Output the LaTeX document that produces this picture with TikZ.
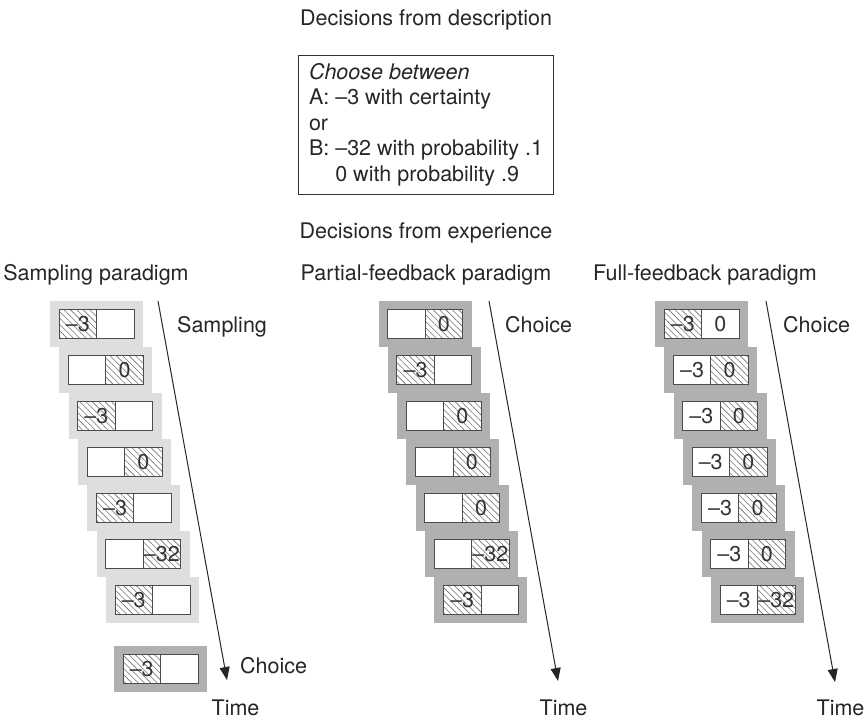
\documentclass[tikz,border=0pt]{standalone}
\usepackage{fontspec}
\setmainfont{TeX Gyre Heros}
\usetikzlibrary{positioning, patterns.meta, arrows.meta}

\definecolor{framelight}{gray}{0.87}
\definecolor{framedark}{gray}{0.69}
\definecolor{boxline}{gray}{0.3}
\definecolor{hatchline}{gray}{0.45}

\tikzset{
  lbl/.style={inner sep=0pt, anchor=base, text=black!85},
  lightframe/.style={fill=framelight, minimum width=93pt, minimum height=46pt, inner sep=0pt, outer sep=0pt},
  darkframe/.style={lightframe, fill=framedark},
  blank/.style={draw=boxline, line width=0.9pt, fill=white, minimum width=37.5pt, minimum height=29pt, inner sep=0pt, outer sep=0pt, text=black!80},
  hatch/.style={blank, preaction={fill=white}, pattern={Lines[angle=-45, distance=4.5pt, line width=0.6pt]}, pattern color=hatchline},
  timeline/.style={-{Triangle[length=13pt,width=10pt]}, line width=1pt, black!85},
}

\begin{document}
\begin{tikzpicture}[x=1pt, y=-1pt, font=\fontsize{21.5}{25.5}\selectfont]

\useasboundingbox (0,0) rectangle (867,723);

% description
\node[lbl] (desctitle) at (426,25) {Decisions from description};
\node[draw=black!80, line width=0.9pt, below=25pt of desctitle, inner xsep=10.5pt, inner ysep=8pt, minimum height=138pt, align=left, text=black!85] (desc) {\textit{Choose between}\\A: \textendash3 with certainty\\or\\B: \textendash32 with probability .1\\\phantom{B:\ }0 with probability .9};
\node[lbl] (exptitle) at (426,238) {Decisions from experience};

% column titles
\node[lbl] (samptitle) at (96,280) {Sampling paradigm};
\node[lbl] (parttitle) at (426,280) {Partial-feedback paradigm};
\node[lbl] (fulltitle) at (705,280) {Full-feedback paradigm};

% sampling paradigm
\node[lightframe, below=16.4pt of samptitle, xshift=0.5pt] (s1) {};
\node[hatch, anchor=east] (s1l) at (s1.center) {\textendash3};
\node[blank, anchor=west] (s1r) at (s1.center) {};
\node[lightframe, below=0pt of s1, xshift=9.33pt] (s2) {};
\node[blank, anchor=east] (s2l) at (s2.center) {};
\node[hatch, anchor=west] (s2r) at (s2.center) {0};
\node[lightframe, below=0pt of s2, xshift=9.33pt] (s3) {};
\node[hatch, anchor=east] (s3l) at (s3.center) {\textendash3};
\node[blank, anchor=west] (s3r) at (s3.center) {};
\node[lightframe, below=0pt of s3, xshift=9.33pt] (s4) {};
\node[blank, anchor=east] (s4l) at (s4.center) {};
\node[hatch, anchor=west] (s4r) at (s4.center) {0};
\node[lightframe, below=0pt of s4, xshift=9.33pt] (s5) {};
\node[hatch, anchor=east] (s5l) at (s5.center) {\textendash3};
\node[blank, anchor=west] (s5r) at (s5.center) {};
\node[lightframe, below=0pt of s5, xshift=9.33pt] (s6) {};
\node[blank, anchor=east] (s6l) at (s6.center) {};
\node[hatch, anchor=west] (s6r) at (s6.center) {\textendash32};
\node[lightframe, below=0pt of s6, xshift=9.33pt] (s7) {};
\node[hatch, anchor=east] (s7l) at (s7.center) {\textendash3};
\node[blank, anchor=west] (s7r) at (s7.center) {};
\node[darkframe, below=22.5pt of s7, xshift=8pt] (s8) {};
\node[hatch, anchor=east] (s8l) at (s8.center) {\textendash3};
\node[blank, anchor=west] (s8r) at (s8.center) {};

% partial-feedback paradigm
\node[darkframe, below=16.4pt of parttitle, xshift=-1pt] (p1) {};
\node[blank, anchor=east] (p1l) at (p1.center) {};
\node[hatch, anchor=west] (p1r) at (p1.center) {0};
\node[darkframe, below=0pt of p1, xshift=9.33pt] (p2) {};
\node[hatch, anchor=east] (p2l) at (p2.center) {\textendash3};
\node[blank, anchor=west] (p2r) at (p2.center) {};
\node[darkframe, below=0pt of p2, xshift=9.33pt] (p3) {};
\node[blank, anchor=east] (p3l) at (p3.center) {};
\node[hatch, anchor=west] (p3r) at (p3.center) {0};
\node[darkframe, below=0pt of p3, xshift=9.33pt] (p4) {};
\node[blank, anchor=east] (p4l) at (p4.center) {};
\node[hatch, anchor=west] (p4r) at (p4.center) {0};
\node[darkframe, below=0pt of p4, xshift=9.33pt] (p5) {};
\node[blank, anchor=east] (p5l) at (p5.center) {};
\node[hatch, anchor=west] (p5r) at (p5.center) {0};
\node[darkframe, below=0pt of p5, xshift=9.33pt] (p6) {};
\node[blank, anchor=east] (p6l) at (p6.center) {};
\node[hatch, anchor=west] (p6r) at (p6.center) {\textendash32};
\node[darkframe, below=0pt of p6, xshift=9.33pt] (p7) {};
\node[hatch, anchor=east] (p7l) at (p7.center) {\textendash3};
\node[blank, anchor=west] (p7r) at (p7.center) {};

% full-feedback paradigm
\node[darkframe, below=16.4pt of fulltitle, xshift=-3.5pt] (f1) {};
\node[hatch, anchor=east] (f1l) at (f1.center) {\textendash3};
\node[blank, anchor=west] (f1r) at (f1.center) {0};
\node[darkframe, below=0pt of f1, xshift=9.33pt] (f2) {};
\node[blank, anchor=east] (f2l) at (f2.center) {\textendash3};
\node[hatch, anchor=west] (f2r) at (f2.center) {0};
\node[darkframe, below=0pt of f2, xshift=9.33pt] (f3) {};
\node[blank, anchor=east] (f3l) at (f3.center) {\textendash3};
\node[hatch, anchor=west] (f3r) at (f3.center) {0};
\node[darkframe, below=0pt of f3, xshift=9.33pt] (f4) {};
\node[blank, anchor=east] (f4l) at (f4.center) {\textendash3};
\node[hatch, anchor=west] (f4r) at (f4.center) {0};
\node[darkframe, below=0pt of f4, xshift=9.33pt] (f5) {};
\node[blank, anchor=east] (f5l) at (f5.center) {\textendash3};
\node[hatch, anchor=west] (f5r) at (f5.center) {0};
\node[darkframe, below=0pt of f5, xshift=9.33pt] (f6) {};
\node[blank, anchor=east] (f6l) at (f6.center) {\textendash3};
\node[hatch, anchor=west] (f6r) at (f6.center) {0};
\node[darkframe, below=0pt of f6, xshift=9.33pt] (f7) {};
\node[blank, anchor=east] (f7l) at (f7.center) {\textendash3};
\node[hatch, anchor=west] (f7r) at (f7.center) {\textendash32};

% time arrows
\coordinate (sstart) at (158,301);
\coordinate (send) at (227,680);
\coordinate (pstart) at (489,301);
\coordinate (pend) at (558,681);
\coordinate (fstart) at (766,301);
\coordinate (fend) at (835,682);

\draw[timeline] (sstart) -- (send);
\draw[timeline] (pstart) -- (pend);
\draw[timeline] (fstart) -- (fend);

\node[lbl, anchor=base west] (samplbl) at (177,332) {Sampling};
\node[lbl, anchor=base west] (sampchoice) at (240,673) {Choice};
\node[lbl] (samptime) at (235.5,715) {Time};
\node[lbl, anchor=base west] (partchoice) at (505,332) {Choice};
\node[lbl] (parttime) at (563.5,715) {Time};
\node[lbl, anchor=base west] (fullchoice) at (783,332) {Choice};
\node[lbl] (fulltime) at (840.5,715) {Time};

\end{tikzpicture}
\end{document}
